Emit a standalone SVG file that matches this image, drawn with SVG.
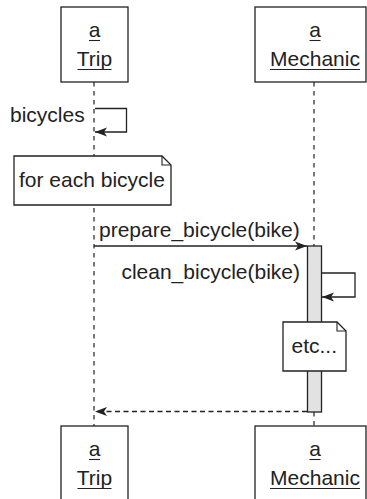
<svg xmlns="http://www.w3.org/2000/svg" width="367" height="499" viewBox="0 0 367 499">
<style>
.box{fill:#fff;stroke:#222;stroke-width:1.3}
.t{font-family:"Liberation Sans",Arial,sans-serif;font-size:21px;fill:#222}
.c{text-anchor:middle}
.u{stroke:#222;stroke-width:1.1}
.life{stroke:#222;stroke-width:1.2;stroke-dasharray:4.5,4.5;fill:none}
.msg{stroke:#222;stroke-width:1.3;fill:none}
.ret{stroke:#222;stroke-width:1.3;fill:none;stroke-dasharray:5,3.5}
.act{fill:#e2e2e2;stroke:#222;stroke-width:1.3}
</style>
<defs>
<marker id="ah" markerUnits="userSpaceOnUse" markerWidth="16" markerHeight="12" refX="13" refY="6" orient="auto">
<path d="M13,6 L1,1.5 L4,6 L1,10.5 Z" fill="#222"/>
</marker>
</defs>
<g id="lifelines">
<line class="life" x1="94" y1="82" x2="94" y2="426"/>
<line class="life" x1="314" y1="82" x2="314" y2="246"/>
<line class="life" x1="314" y1="412" x2="314" y2="426"/>
</g>
<g id="trip-top">
<rect class="box" x="61" y="7" width="67" height="75"/>
<text class="t c" x="94.5" y="37">a</text>
<line class="u" x1="89" y1="40.5" x2="100" y2="40.5"/>
<text class="t c" x="94.5" y="66">Trip</text>
<line class="u" x1="77.5" y1="69.5" x2="111.5" y2="69.5"/>
</g>
<g id="mechanic-top">
<rect class="box" x="255" y="7" width="111" height="75"/>
<text class="t c" x="315" y="37">a</text>
<line class="u" x1="309.5" y1="40.5" x2="320.5" y2="40.5"/>
<text class="t c" x="315" y="66">Mechanic</text>
<line class="u" x1="270" y1="69.5" x2="360" y2="69.5"/>
</g>
<g id="activation">
<rect class="act" x="307.5" y="246" width="14" height="166"/>
</g>
<g id="note-for-each">
<path class="box" d="M14,156 H162 L171,165 V205 H14 Z"/>
<path d="M162,156 V165 H171" fill="none" stroke="#222" stroke-width="1.1"/>
<text class="t" x="19" y="187">for each bicycle</text>
</g>
<g id="note-etc">
<path class="box" d="M283,322 H337 L346,331 V371 H283 Z"/>
<path d="M337,322 V331 H346" fill="none" stroke="#222" stroke-width="1.1"/>
<text class="t" x="291.5" y="353">etc...</text>
</g>
<g id="trip-bottom">
<rect class="box" x="61" y="426" width="67" height="80"/>
<text class="t c" x="94.5" y="456">a</text>
<line class="u" x1="89" y1="459.5" x2="100" y2="459.5"/>
<text class="t c" x="94.5" y="485">Trip</text>
<line class="u" x1="77.5" y1="488.5" x2="111.5" y2="488.5"/>
</g>
<g id="mechanic-bottom">
<rect class="box" x="255" y="426" width="111" height="80"/>
<text class="t c" x="315" y="456">a</text>
<line class="u" x1="309.5" y1="459.5" x2="320.5" y2="459.5"/>
<text class="t c" x="315" y="485">Mechanic</text>
<line class="u" x1="270" y1="488.5" x2="360" y2="488.5"/>
</g>
<g id="connectors">
<path class="msg" d="M95,108.5 H126.5 V132 H95" marker-end="url(#ah)"/>
<text class="t" x="10" y="122">bicycles</text>
<path class="msg" d="M94,246 H307" marker-end="url(#ah)"/>
<text class="t" x="99" y="237">prepare_bicycle(bike)</text>
<path class="msg" d="M321.5,273 H355 V297 H322" marker-end="url(#ah)"/>
<text class="t" x="300" y="279" text-anchor="end">clean_bicycle(bike)</text>
<path class="ret" d="M307,411.5 H95" marker-end="url(#ah)"/>
</g>
</svg>
